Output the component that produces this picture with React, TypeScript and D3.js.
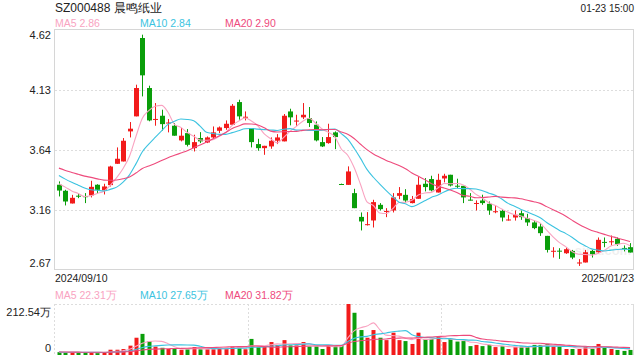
import React from "react";
import * as d3 from "d3";

// ---- data ----
const title = "SZ000488 晨鸣纸业";
const timeLabel = "01-23 15:00";
const startDate = "2024/09/10";
const endDate = "2025/01/23";
const priceMaLabels = ["MA5 2.86", "MA10 2.84", "MA20 2.90"];
const volumeMaLabels = ["MA5 22.31万", "MA10 27.65万", "MA20 31.82万"];
const volumeTickLabels = ["212.54万", "0"];
const priceDomain = [2.669, 4.617];
const volumeDomain = [0, 212.54];
const maPeriods = [5, 10, 20];

const opens = [
  3.361, 3.312, 3.209, 3.272, 3.268, 3.274, 3.361, 3.315, 3.358, 3.531,
  3.55, 3.794, 3.916, 4.552, 4.146, 3.89, 3.921, 3.862, 3.84, 3.721,
  3.78, 3.658, 3.74, 3.704, 3.745, 3.799, 3.821, 3.848, 4.032, 3.907,
  3.821, 3.691, 3.658, 3.672, 3.718, 3.713, 3.956, 3.876, 3.908, 3.902,
  3.848, 3.707, 3.699, 3.786, 3.367, 3.36, 3.293, 3.1, 3.036, 3.071,
  3.198, 3.144, 3.152, 3.271, 3.279, 3.212, 3.247, 3.369, 3.407, 3.298,
  3.412, 3.442, 3.353, 3.352, 3.24, 3.209, 3.233, 3.206, 3.142, 3.149,
  3.075, 3.095, 3.13, 3.09, 3.055, 3.022, 2.946, 2.82, 2.826, 2.805,
  2.824, 2.727, 2.73, 2.824, 2.813, 2.897, 2.898, 2.922, 2.848, 2.854,
];
const highs = [
  3.388, 3.32, 3.279, 3.29, 3.293, 3.393, 3.365, 3.369, 3.515, 3.664,
  3.74, 3.87, 4.173, 4.579, 4.165, 4.024, 3.97, 3.894, 3.862, 3.821,
  3.813, 3.767, 3.788, 3.753, 3.834, 3.834, 3.883, 4.016, 4.051, 3.956,
  3.821, 3.734, 3.677, 3.745, 3.772, 3.935, 3.978, 3.929, 4.024, 3.992,
  3.875, 3.748, 3.856, 3.794, 3.37, 3.51, 3.328, 3.136, 3.139, 3.239,
  3.212, 3.171, 3.293, 3.342, 3.325, 3.27, 3.423, 3.415, 3.434, 3.45,
  3.45, 3.442, 3.41, 3.352, 3.293, 3.234, 3.28, 3.225, 3.193, 3.163,
  3.117, 3.152, 3.152, 3.125, 3.071, 3.049, 2.946, 2.854, 2.846, 2.854,
  2.832, 2.757, 2.832, 2.832, 2.933, 2.933, 2.949, 2.933, 2.868, 2.887,
];
const lows = [
  3.266, 3.193, 3.209, 3.252, 3.212, 3.258, 3.29, 3.282, 3.347, 3.531,
  3.55, 3.745, 3.916, 4.078, 3.876, 3.84, 3.8, 3.786, 3.759, 3.713,
  3.672, 3.631, 3.699, 3.699, 3.74, 3.78, 3.807, 3.848, 3.889, 3.883,
  3.664, 3.637, 3.604, 3.653, 3.691, 3.713, 3.843, 3.84, 3.894, 3.83,
  3.713, 3.667, 3.694, 3.65, 3.363, 3.36, 3.171, 2.99, 3.03, 3.014,
  3.152, 3.098, 3.136, 3.244, 3.217, 3.21, 3.247, 3.307, 3.307, 3.298,
  3.38, 3.347, 3.334, 3.212, 3.233, 3.152, 3.198, 3.117, 3.13, 3.063,
  3.07, 3.07, 3.076, 3.027, 3.0, 2.946, 2.811, 2.77, 2.759, 2.8,
  2.757, 2.702, 2.73, 2.77, 2.805, 2.854, 2.868, 2.865, 2.82, 2.811,
];
const closes = [
  3.314, 3.225, 3.255, 3.268, 3.264, 3.344, 3.32, 3.347, 3.509, 3.572,
  3.718, 3.816, 4.146, 4.249, 3.883, 3.895, 3.853, 3.866, 3.759, 3.759,
  3.685, 3.707, 3.713, 3.745, 3.786, 3.826, 3.856, 4.002, 3.916, 3.913,
  3.707, 3.658, 3.677, 3.718, 3.745, 3.921, 3.908, 3.882, 3.929, 3.862,
  3.721, 3.672, 3.748, 3.748, 3.365, 3.469, 3.171, 3.063, 3.041, 3.22,
  3.163, 3.148, 3.258, 3.293, 3.233, 3.244, 3.361, 3.342, 3.315, 3.401,
  3.434, 3.355, 3.349, 3.258, 3.238, 3.213, 3.212, 3.152, 3.146, 3.095,
  3.079, 3.117, 3.098, 3.055, 3.009, 2.968, 2.832, 2.825, 2.822, 2.838,
  2.77, 2.73, 2.813, 2.797, 2.914, 2.893, 2.902, 2.879, 2.845, 2.811,
];
const volumes = [
  12, 11, 10, 9, 10, 11, 10, 11, 22, 22,
  25, 39, 72, 88, 58, 35, 30, 25, 26, 22,
  24, 33, 24, 24, 24, 30, 30, 35, 35, 24,
  67, 33, 35, 54, 42, 62, 40, 40, 54, 35,
  35, 25, 39, 37, 39, 212.54, 176, 104, 72, 104,
  72, 62, 93, 62, 58, 46, 93, 67, 67, 76,
  54, 67, 56, 58, 37, 42, 37, 42, 33, 37,
  25, 33, 35, 35, 42, 42, 46, 35, 35, 25,
  25, 25, 35, 25, 46, 30, 25, 21, 17, 21,
];
// closes / volumes before the first shown day (only used for the moving averages)
const priorCloses = [
  3.6, 3.58, 3.57, 3.56, 3.55, 3.56, 3.55, 3.54, 3.52, 3.53,
  3.52, 3.51, 3.5, 3.49, 3.496, 3.36, 3.41, 3.37, 3.39,
];
const priorVolumes = [
  14, 13, 15, 12, 13, 14, 12, 13, 12, 11,
  13, 12, 11, 12, 13, 11, 12, 11, 12,
];

// ---- style ----
const UP = "#f21b1b";
const DOWN = "#0a9e0a";
const MA_COLORS = ["#f9a3c1", "#3cc3e0", "#ee4a7c"];
const FONT = "Arial, 'Liberation Sans', Helvetica, sans-serif";
const GRID = "#dddddd";

const W = 640;
const H = 360;
const L = 55;
const R = 634;
const PT = 30;
const PB = 270;
const VT = 304;
const VB = 355;

function movingAvg(prior: number[], vals: number[], n: number): number[] {
  const all = prior.concat(vals);
  const p = prior.length;
  return vals.map((_, i) => d3.mean(all.slice(p + i - n + 1, p + i + 1)) as number);
}

export default function App() {
  const N = closes.length;
  const x = d3.scaleBand<number>().domain(d3.range(N)).range([L, R]).padding(0.22);
  const cx = (i: number) => (x(i) as number) + x.bandwidth() / 2;
  const y = d3.scaleLinear().domain(priceDomain).range([PB, PT]);
  const vy = d3.scaleLinear().domain(volumeDomain).range([VB, VT]);

  const priceTicks = d3.range(5).map((k) => priceDomain[0] + (k * (priceDomain[1] - priceDomain[0])) / 4);

  const priceMAs = maPeriods.map((n) => movingAvg(priorCloses, closes, n));
  const volMAs = maPeriods.map((n) => movingAvg(priorVolumes, volumes, n));
  const pLine = d3.line<number>().x((_, i) => cx(i)).y((d) => y(d)).curve(d3.curveMonotoneX);
  const vLine = d3.line<number>().x((_, i) => cx(i)).y((d) => vy(d)).curve(d3.curveMonotoneX);

  const bodyW = 5;
  const volW = 4;

  const legendX = [L, 140, 225];

  return (
    <svg width={W} height={H} style={{ position: "absolute", left: 0, top: 0, background: "#fff" }} fontFamily={FONT}>
      <rect x={0} y={0} width={W} height={H} fill="#fff" />
      {/* header */}
      <text x={L} y={11.5} fontSize={12} fill="#222">{title}</text>
      <text x={R} y={12} fontSize={10} fill="#222" textAnchor="end">{timeLabel}</text>
      {priceMaLabels.map((t, k) => (
        <text key={t} x={legendX[k]} y={27} fontSize={10.5} fill={MA_COLORS[k]}>{t}</text>
      ))}

      {/* price grid */}
      {priceTicks.slice(1, 4).map((t) => (
        <line key={t} x1={L} x2={R} y1={Math.round(y(t)) + 0.5} y2={Math.round(y(t)) + 0.5} stroke={GRID} strokeWidth={1} strokeDasharray="2,2" />
      ))}
      <rect x={L - 0.5} y={PT - 0.5} width={R - L} height={PB - PT} fill="none" stroke="#d6d6d6" />
      {priceTicks.map((t, k) => (
        <text
          key={t}
          x={51}
          y={k === 4 ? y(t) + 9 : k === 0 ? y(t) - 3 : y(t) + 4}
          fontSize={11}
          fill="#222"
          textAnchor="end"
        >
          {t.toFixed(2)}
        </text>
      ))}

      {/* watermark */}
      <text x={603} y={255} fontSize={13} fill="#000" opacity={0.06} textAnchor="middle" fontWeight="bold">sina.com</text>

      {/* candles */}
      {closes.map((c, i) => {
        const o = opens[i];
        const up = c >= o;
        const col = up ? UP : DOWN;
        const xc = Math.round(cx(i)) + 0.5;
        const top = y(Math.max(o, c));
        const bh = Math.max(1, y(Math.min(o, c)) - top);
        return (
          <g key={i}>
            <line x1={xc} x2={xc} y1={y(highs[i])} y2={y(lows[i])} stroke={col} strokeWidth={1} />
            <rect x={xc - bodyW / 2} y={top} width={bodyW} height={bh} fill={col} />
          </g>
        );
      })}
      {priceMAs.map((m, k) => (
        <path key={k} d={pLine(m) as string} fill="none" stroke={MA_COLORS[k]} strokeWidth={1.1} />
      ))}

      {/* dates */}
      <text x={L} y={281.5} fontSize={10.5} fill="#222">{startDate}</text>
      <text x={R} y={281.5} fontSize={10.5} fill="#222" textAnchor="end">{endDate}</text>

      {/* volume panel */}
      {volumeMaLabels.map((t, k) => (
        <text key={t} x={legendX[k]} y={298.5} fontSize={10.5} fill={MA_COLORS[k]}>{t}</text>
      ))}
      <line x1={L} x2={R} y1={VT + 0.5} y2={VT + 0.5} stroke={GRID} strokeDasharray="2,2" />
      <line x1={L - 0.5} x2={L - 0.5} y1={VT} y2={VB} stroke={GRID} strokeDasharray="2,2" />
      <line x1={R - 0.5} x2={R - 0.5} y1={VT} y2={VB} stroke={GRID} />
      {[1, 2].map((k) => {
        const xx = Math.round(L + ((R - L) * k) / 3) + 0.5;
        return <line key={k} x1={xx} x2={xx} y1={VT} y2={VB} stroke={GRID} strokeDasharray="2,2" />;
      })}
      <text x={51} y={315.5} fontSize={11} fill="#222" textAnchor="end">{volumeTickLabels[0]}</text>
      <text x={51} y={352} fontSize={11} fill="#222" textAnchor="end">{volumeTickLabels[1]}</text>
      {volumes.map((v, i) => {
        const up = closes[i] >= opens[i];
        const xc = Math.round(cx(i)) + 0.5;
        return (
          <rect key={i} x={xc - volW / 2} y={vy(v)} width={volW} height={VB - vy(v)} fill={up ? UP : DOWN} />
        );
      })}
      {volMAs.map((m, k) => (
        <path key={k} d={vLine(m) as string} fill="none" stroke={MA_COLORS[k]} strokeWidth={1.1} />
      ))}
    </svg>
  );
}
